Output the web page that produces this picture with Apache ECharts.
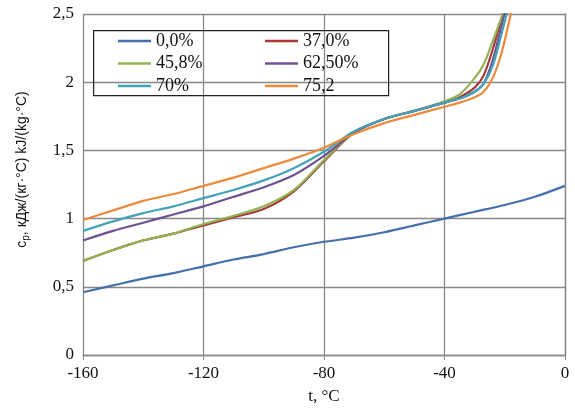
<!DOCTYPE html>
<html>
<head>
<meta charset="utf-8">
<script src="https://cdn.jsdelivr.net/npm/echarts@6/dist/echarts.min.js"></script>
<style>
html,body{margin:0;padding:0;background:#fff;}
#main{width:575px;height:414px;}
</style>
</head>
<body>
<div id="main"></div>
<script>
// температура, °C
var tBlue = [-160,-150,-140,-130,-120,-110,-100,-90,-80,-70,-60,-50,-40,-30,-20,-10,0];
var cp0 = [0.46,0.51,0.56,0.60,0.65,0.70,0.74,0.79,0.83,0.86,0.90,0.95,1.00,1.05,1.10,1.16,1.24];

var tMix = [-160,-150,-140,-130,-120,-110,-100,-90,-80,-70,-60,-50,-40,-35,-30,-27,-24,-21,-18,-16];
var cp37 = [0.69,0.77,0.84,0.89,0.95,1.01,1.07,1.20,1.42,1.63,1.73,1.79,1.85,1.89,1.96,2.05,2.24,2.47,2.70,2.85];
var cp458 = [0.69,0.77,0.84,0.89,0.96,1.02,1.09,1.21,1.43,1.63,1.73,1.79,1.86,1.91,2.03,2.13,2.30,2.48,2.68,2.85];
var cp625 = [0.84,0.91,0.97,1.03,1.09,1.16,1.23,1.32,1.46,1.63,1.73,1.79,1.85,1.88,1.93,1.99,2.16,2.42,2.68,2.85];
var cp70 = [0.91,0.98,1.04,1.09,1.15,1.21,1.28,1.37,1.49,1.64,1.73,1.79,1.85,1.88,1.93,1.99,2.12,2.36,2.62,2.80];
var cp752 = [0.99,1.06,1.13,1.18,1.24,1.30,1.37,1.44,1.52,1.62,1.70,1.76,1.82,1.85,1.89,1.93,2.03,2.22,2.50,2.70];

var names = ['0,0%','37,0%','45,8%','62,50%','70%','75,2'];
var colors = ['#4670ab','#a33b36','#93b356','#6e528f','#45a2b9','#ec8a3c'];

function pairs(xs, ys){
	var out = [];
	for (var i = 0; i < xs.length; i++) out.push([xs[i], ys[i]]);
	return out;
}

var seriesData = [pairs(tBlue,cp0), pairs(tMix,cp37), pairs(tMix,cp458), pairs(tMix,cp625), pairs(tMix,cp70), pairs(tMix,cp752)];
var series = [];
for (var s = 0; s < names.length; s++) {
	series.push({
		name: names[s],
		type: 'line',
		smooth: 0.3,
		symbol: 'none',
		clip: true,
		data: seriesData[s],
		lineStyle: {width: 2.2, color: colors[s]},
		itemStyle: {color: colors[s]}
	});
}

var serif = 'Liberation Serif';
// две колонки легенды
function legendCol(left, items){
	return {
		left: left,
		top: 32,
		orient: 'vertical',
		data: items,
		icon: 'rect',
		itemWidth: 33,
		itemHeight: 2.5,
		itemGap: 4.5,
		padding: 0,
		textStyle: {fontFamily: serif, fontSize: 18, color: '#111'}
	};
}

var chart = echarts.init(document.getElementById('main'));
var option = {
	animation: false,
	grid: {left: 83, right: 10, top: 14, bottom: 59},
	legend: [
		legendCol(118, [names[0], names[2], names[4]]),
		legendCol(265, [names[1], names[3], names[5]])
	],
	graphic: [{
		type: 'rect',
		left: 93,
		top: 30,
		shape: {width: 295, height: 65},
		style: {fill: 'rgba(0,0,0,0)', stroke: '#222', lineWidth: 1.2},
		z: 10
	}],
	xAxis: {
		type: 'value',
		min: -160,
		max: 0,
		interval: 40,
		name: 't, °C',
		nameLocation: 'middle',
		nameGap: 33,
		nameTextStyle: {fontFamily: serif, fontSize: 17, color: '#111'},
		axisLine: {lineStyle: {color: '#888', width: 1.3}},
		axisTick: {show: true, length: 5, lineStyle: {color: '#888'}},
		axisLabel: {fontFamily: serif, fontSize: 17, color: '#111', margin: 10},
		splitLine: {show: true, lineStyle: {color: '#888', width: 1.3}}
	},
	yAxis: {
		type: 'value',
		min: 0,
		max: 2.5,
		interval: 0.5,
		name: '{a|c}{b|p}{a|, кДж/(кг·°С) kJ/(kg·°C)}',
		nameLocation: 'middle',
		nameRotate: 90,
		nameGap: 52,
		nameTextStyle: {
			padding: [0, 0, 0, 30],
			rich: {
				a: {fontFamily: 'Liberation Sans', fontSize: 14, color: '#111'},
				b: {fontFamily: 'Liberation Sans', fontSize: 10, color: '#111', verticalAlign: 'bottom', padding: [7,0,0,0]}
			}
		},
		axisLine: {show: true, lineStyle: {color: '#888', width: 1.3}},
		axisTick: {show: true, length: 5, lineStyle: {color: '#888'}},
		axisLabel: {
			fontFamily: serif, fontSize: 17, color: '#111', margin: 9,
			formatter: function(v){ return String(v).replace('.', ','); }
		},
		splitLine: {show: true, lineStyle: {color: '#888', width: 1.3}}
	},
	series: series
};
chart.setOption(option);
</script>
</body>
</html>
